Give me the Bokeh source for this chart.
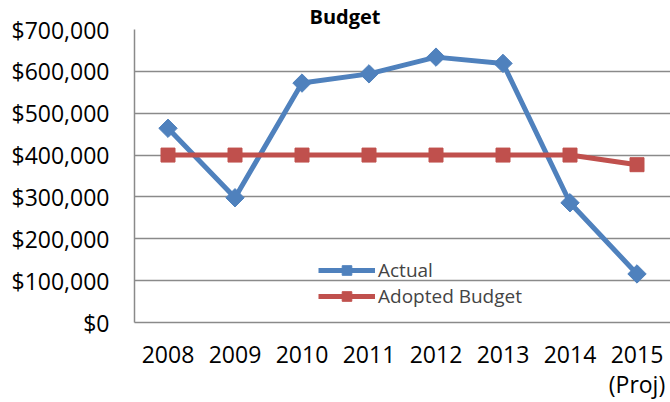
from bokeh.plotting import figure
from bokeh.models import FactorRange, Range1d, FixedTicker, NumeralTickFormatter, Legend, LegendItem
from bokeh.embed import file_html
from bokeh.resources import INLINE

years = ["2008", "2009", "2010", "2011", "2012", "2013", "2014", "2015\n(Proj)"]
actual = [464000, 298000, 572000, 594000, 634000, 619000, 286000, 116000]
adopted = [400000, 400000, 400000, 400000, 400000, 400000, 400000, 377000]
y_ticks = [0, 100000, 200000, 300000, 400000, 500000, 600000, 700000]
title_text = "Budget"

BLUE = "#4F81BD"
RED = "#C0504D"
GRID = "#8a8a8a"
FONT = "Open Sans"

p = figure(x_range=FactorRange(*years), y_range=Range1d(0, 700000),
           width=670, height=402, output_backend="svg", toolbar_location=None,
           min_border_left=134, min_border_right=0, min_border_top=20, min_border_bottom=80)
p.outline_line_color = None
p.background_fill_color = "white"

p.title.text = title_text
p.title.align = "left"
p.title.offset = 175
p.title.standoff = 0
p.title.text_font = FONT
p.title.text_font_style = "bold"
p.title.text_font_size = "20px"
p.title.text_color = "black"

l1 = p.line(years, actual, line_color=BLUE, line_width=5)
s1 = p.scatter(years, actual, marker="square", angle=0.785398, size=13, fill_color=BLUE, line_color=BLUE)
l2 = p.line(years, adopted, line_color=RED, line_width=5)
s2 = p.scatter(years, adopted, marker="square", size=14, fill_color=RED, line_color=RED)

p.yaxis.ticker = FixedTicker(ticks=y_ticks)
p.ygrid.ticker = FixedTicker(ticks=y_ticks)
p.yaxis.formatter = NumeralTickFormatter(format="$0,0")
p.ygrid.grid_line_color = GRID
p.ygrid.grid_line_width = 1.5
p.xgrid.visible = False

for ax in (p.xaxis, p.yaxis):
    ax.axis_line_color = GRID
    ax.axis_line_width = 1.5
    ax.major_tick_line_color = None
    ax.minor_tick_line_color = None
    ax.major_tick_out = 0
    ax.major_tick_in = 0
    ax.major_label_text_font = FONT
    ax.major_label_text_font_size = "23px"
    ax.major_label_text_color = "black"

p.yaxis.major_label_standoff = 25
p.xaxis.major_label_standoff = 15
p.xaxis.major_label_text_line_height = 0.95

legend = Legend(items=[LegendItem(label="Actual", renderers=[l1, s1]),
                       LegendItem(label="Adopted Budget", renderers=[l2, s2])],
                location=(184, 13), glyph_width=57, glyph_height=24, label_height=24,
                label_standoff=3, spacing=0, padding=0, margin=0,
                border_line_alpha=0, background_fill_alpha=0,
                label_text_font=FONT, label_text_font_size="19px")
p.add_layout(legend)

open("out.html", "w").write(file_html(p, INLINE))
